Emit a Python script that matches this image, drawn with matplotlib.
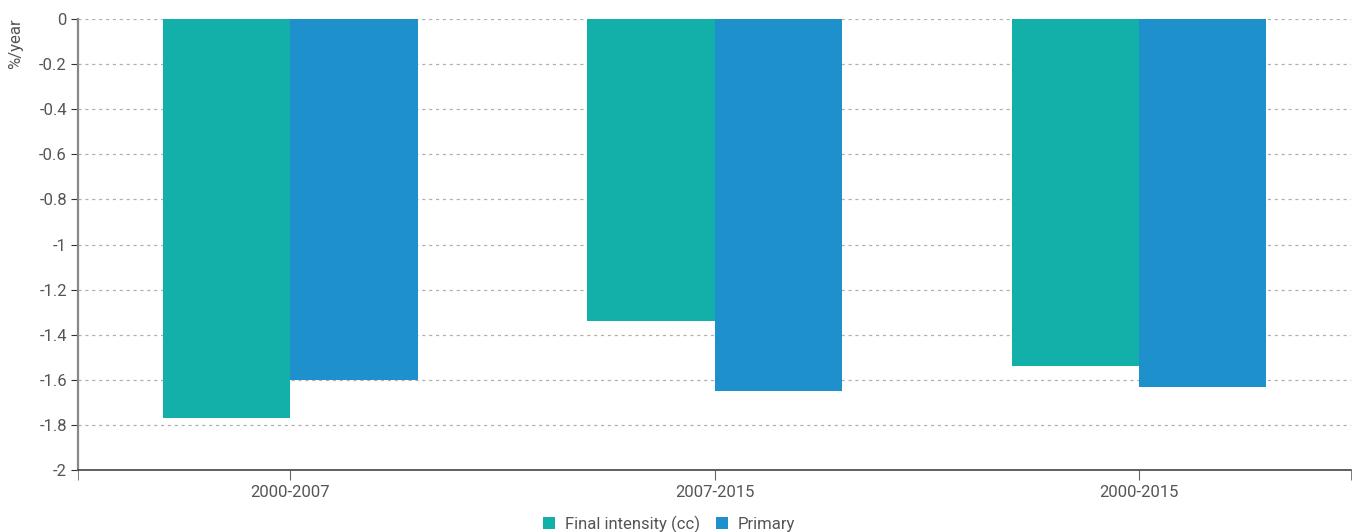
import matplotlib

matplotlib.use("Agg")

import matplotlib.pyplot as plt  # noqa: E402
import numpy as np  # noqa: E402

periods = ["2000-2007", "2007-2015", "2000-2015"]
final_intensity = [-1.77, -1.34, -1.54]
primary = [-1.60, -1.65, -1.63]
y_ticks = [0, -0.2, -0.4, -0.6, -0.8, -1, -1.2, -1.4, -1.6, -1.8, -2]

TEAL = "#13afa9"
BLUE = "#1e91cd"
GREY_TXT = "#555555"
FS = 12

plt.rcParams["font.family"] = ["Roboto", "DejaVu Sans"]

fig = plt.figure(figsize=(13.6, 5.32), dpi=100)
ax = fig.add_axes([0.0574, 0.1165, 0.9360, 0.8478])

xs = np.arange(len(periods))
w = 0.3
ax.bar(xs - w / 2, final_intensity, width=w, color=TEAL, label="Final intensity (cc)", zorder=3)
ax.bar(xs + w / 2, primary, width=w, color=BLUE, label="Primary", zorder=3)

ax.set_xlim(-0.5, len(periods) - 0.5)
ax.set_ylim(-2, 0)
ax.set_yticks(y_ticks)
ax.set_yticklabels([f"{t:g}" for t in y_ticks], color=GREY_TXT, fontsize=FS)
ax.set_xticks(xs)
ax.set_xticklabels(periods, color=GREY_TXT, fontsize=FS)
ax.set_xticks([-0.5, len(periods) - 0.5], minor=True)
ax.tick_params(axis="x", which="both", length=7, color="#666666")
ax.tick_params(axis="y", length=5, color="#333333", pad=3)

ax.yaxis.grid(True, linestyle=(0, (2.5, 3)), color="#b0b0b0", linewidth=0.9, zorder=0)
for side in ("top", "right"):
    ax.spines[side].set_visible(False)
ax.spines["left"].set_color("#888888")
ax.spines["left"].set_linewidth(1.6)
ax.spines["bottom"].set_color("#444444")
ax.spines["bottom"].set_linewidth(1.2)

ax.set_ylabel("%/year", color=GREY_TXT, fontsize=FS)
ax.yaxis.set_label_coords(-0.043, 0.945)

fig.legend(*ax.get_legend_handles_labels(), loc="lower center", bbox_to_anchor=(0.492, -0.03),
           ncol=2, frameon=False, fontsize=FS, handlelength=0.7, handleheight=0.7,
           handletextpad=0.6, columnspacing=1.0, labelcolor=GREY_TXT)

fig.savefig("out.png", dpi=100)
